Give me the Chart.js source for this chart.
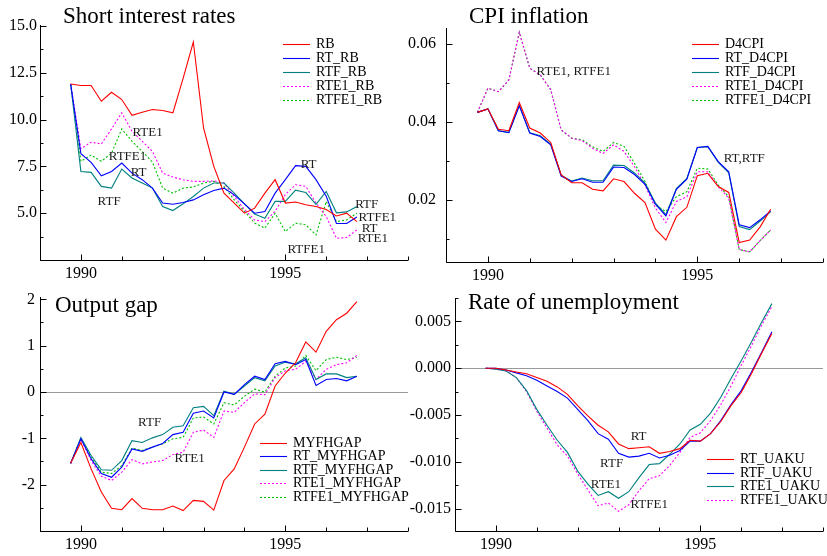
<!DOCTYPE html>
<html>
<head>
<meta charset="utf-8">
<script src="https://cdn.jsdelivr.net/npm/chart.js@4.4.1/dist/chart.umd.min.js"></script>
<style>
  body { margin: 0; background: #fff; }
  #wrap { position: relative; width: 827px; height: 556px; overflow: hidden; background: #fff; }
  canvas { position: absolute; }
</style>
</head>
<body>
<div id="wrap">
  <canvas id="c1" width="414" height="280" style="left:0;top:0"></canvas>
  <canvas id="c2" width="427" height="282" style="left:400px;top:0"></canvas>
  <canvas id="c3" width="414" height="276" style="left:0;top:280px"></canvas>
  <canvas id="c4" width="427" height="276" style="left:400px;top:280px"></canvas>
</div>
<script>
// quarterly dates, 1989Q4 .. 1996Q4
const quarters = [1989.75, 1990, 1990.25, 1990.5, 1990.75, 1991, 1991.25, 1991.5, 1991.75,
  1992, 1992.25, 1992.5, 1992.75, 1993, 1993.25, 1993.5, 1993.75, 1994, 1994.25, 1994.5, 1994.75,
  1995, 1995.25, 1995.5, 1995.75, 1996, 1996.25, 1996.5, 1996.75];
const yearTickLabels = [1990, 1995];

// short interest rates
const rb      = [11.9, 11.82, 11.82, 10.98, 11.46, 11.07, 10.23, 10.39, 10.54, 10.48, 10.36, 12.2, 14.14, 9.55, 7.5, 6.07, 5.54, 5.0, 5.27, 6.07, 6.79, 5.54, 5.6, 5.45, 5.36, 5.2, 4.85, 5.0, 4.55];
const rtRb    = [11.9, 8.18, 7.71, 7.0, 7.23, 7.68, 7.14, 6.79, 6.34, 5.54, 5.48, 5.57, 5.71, 5.98, 6.21, 6.34, 5.98, 5.5, 5.0, 5.09, 6.07, 6.79, 7.54, 7.5, 6.79, 5.9, 4.45, 4.45, 4.8];
const rtfRb   = [11.9, 7.23, 7.18, 6.43, 6.34, 7.36, 6.88, 6.61, 6.34, 5.36, 5.14, 5.5, 5.89, 6.34, 6.61, 6.61, 6.07, 5.5, 4.95, 4.73, 5.63, 5.63, 6.23, 6.1, 5.47, 6.16, 5.02, 5.07, 5.36];
const rte1Rb  = [11.9, 8.45, 8.79, 8.7, 9.5, 10.36, 9.38, 8.84, 8.3, 7.14, 6.93, 6.79, 6.7, 6.7, 6.72, 6.61, 5.89, 5.2, 4.64, 4.55, 5.1, 6.0, 6.52, 6.43, 5.54, 4.82, 3.66, 3.7, 4.11];
const rtfe1Rb = [11.9, 7.77, 8.1, 7.77, 8.2, 9.5, 8.84, 8.3, 7.73, 6.34, 6.07, 6.34, 6.4, 6.61, 6.7, 6.43, 5.71, 5.1, 4.47, 4.2, 5.0, 4.02, 4.47, 4.38, 3.84, 5.63, 4.55, 4.64, 5.0];

// CPI inflation
const d4cpi      = [0.0425, 0.0434, 0.0382, 0.0378, 0.045, 0.0385, 0.0372, 0.0348, 0.0265, 0.0245, 0.0245, 0.0228, 0.0224, 0.0255, 0.0248, 0.0218, 0.0194, 0.0126, 0.0098, 0.0158, 0.0182, 0.0263, 0.0269, 0.0235, 0.022, 0.0092, 0.0098, 0.0132, 0.0177];
const rtD4cpi    = [0.0425, 0.0434, 0.0378, 0.0373, 0.0442, 0.0372, 0.0363, 0.0342, 0.0262, 0.0248, 0.0255, 0.0246, 0.0246, 0.0285, 0.0284, 0.0266, 0.0241, 0.019, 0.016, 0.0228, 0.0254, 0.0335, 0.0338, 0.0299, 0.0273, 0.0137, 0.013, 0.015, 0.0173];
const rtfD4cpi   = [0.0425, 0.0434, 0.0378, 0.0374, 0.0443, 0.0373, 0.0365, 0.0344, 0.0264, 0.0249, 0.0257, 0.025, 0.025, 0.029, 0.0289, 0.027, 0.0244, 0.0193, 0.0163, 0.023, 0.0256, 0.0335, 0.0337, 0.0297, 0.027, 0.0133, 0.0125, 0.0147, 0.0171];
const rte1D4cpi  = [0.0425, 0.0487, 0.0478, 0.0508, 0.063, 0.0538, 0.0521, 0.0483, 0.038, 0.0359, 0.0353, 0.0333, 0.032, 0.0342, 0.0325, 0.0286, 0.0239, 0.018, 0.0143, 0.0197, 0.0209, 0.0273, 0.0273, 0.0235, 0.0205, 0.0074, 0.0068, 0.0097, 0.0124];
const rtfe1D4cpi = [0.0425, 0.0487, 0.0478, 0.0508, 0.063, 0.0538, 0.0521, 0.0483, 0.038, 0.0359, 0.0355, 0.0337, 0.0325, 0.0348, 0.0338, 0.0295, 0.0248, 0.0188, 0.0171, 0.0209, 0.0222, 0.0282, 0.028, 0.0239, 0.0209, 0.0074, 0.0068, 0.0097, 0.0124];

// output gap
const gap      = [-1.54, -1.09, -1.66, -2.16, -2.51, -2.54, -2.3, -2.51, -2.54, -2.54, -2.46, -2.56, -2.34, -2.36, -2.55, -1.91, -1.66, -1.19, -0.69, -0.48, 0.13, 0.41, 0.63, 1.08, 0.86, 1.31, 1.56, 1.7, 1.95];
const rtGap    = [-1.54, -1.01, -1.44, -1.76, -1.84, -1.62, -1.23, -1.28, -1.19, -1.11, -0.92, -0.87, -0.46, -0.41, -0.56, 0.0, -0.05, 0.16, 0.34, 0.27, 0.61, 0.66, 0.59, 0.7, 0.14, 0.27, 0.29, 0.24, 0.34];
const rtfGap   = [-1.54, -0.98, -1.37, -1.68, -1.69, -1.48, -1.05, -1.09, -0.99, -0.92, -0.76, -0.73, -0.34, -0.31, -0.51, 0.02, -0.05, 0.13, 0.31, 0.24, 0.56, 0.64, 0.61, 0.74, 0.27, 0.39, 0.39, 0.31, 0.34];
const rte1Gap  = [-1.54, -1.02, -1.48, -1.82, -1.91, -1.73, -1.46, -1.55, -1.51, -1.48, -1.35, -1.3, -0.87, -0.82, -0.98, -0.41, -0.44, -0.23, -0.04, -0.06, 0.31, 0.46, 0.49, 0.66, 0.27, 0.49, 0.59, 0.63, 0.79];
const rtfe1Gap = [-1.54, -1.0, -1.41, -1.73, -1.76, -1.59, -1.21, -1.26, -1.19, -1.12, -1.01, -0.98, -0.56, -0.54, -0.69, -0.23, -0.28, -0.09, 0.06, 0.0, 0.34, 0.52, 0.56, 0.79, 0.46, 0.7, 0.75, 0.7, 0.75];

// rate of unemployment
const rtUaku    = [0, 0, -0.0002, -0.0004, -0.0006, -0.001, -0.0014, -0.002, -0.0028, -0.004, -0.0051, -0.0061, -0.0068, -0.0081, -0.0086, -0.0085, -0.0084, -0.0091, -0.0089, -0.0086, -0.0077, -0.0078, -0.007, -0.0057, -0.004, -0.0026, -0.0006, 0.0016, 0.0037];
const rtfUaku   = [0, 0, -0.0002, -0.0005, -0.0008, -0.0013, -0.0019, -0.0025, -0.0032, -0.0044, -0.0056, -0.007, -0.0076, -0.0091, -0.0095, -0.0094, -0.0091, -0.0096, -0.0093, -0.0088, -0.0078, -0.0078, -0.007, -0.0056, -0.0039, -0.0024, -0.0004, 0.0017, 0.0039];
const rte1Uaku  = [0, -0.0001, -0.0003, -0.001, -0.0024, -0.0044, -0.0061, -0.0077, -0.009, -0.011, -0.0124, -0.0136, -0.0132, -0.0139, -0.0132, -0.0117, -0.0103, -0.0102, -0.0092, -0.0081, -0.0066, -0.006, -0.0048, -0.0031, -0.0011, 0.0008, 0.0028, 0.0049, 0.0069];
const rtfe1Uaku = [0, -0.0001, -0.0003, -0.001, -0.0025, -0.0046, -0.0064, -0.0082, -0.0094, -0.0113, -0.013, -0.0147, -0.0144, -0.0153, -0.0146, -0.0131, -0.0118, -0.0115, -0.0104, -0.009, -0.0074, -0.0069, -0.0056, -0.0039, -0.0019, 0.0003, 0.0024, 0.0046, 0.0066];

const red = '#ff0000', blue = '#0000ff', teal = '#008080', magenta = '#ff00ff', green = '#00c000';
const serif = '"Liberation Serif", "Times New Roman", serif';

function series(label, values, color, dotted) {
  return {
    label: label,
    data: quarters.map((q, i) => ({ x: q, y: values[i] })),
    borderColor: color,
    borderWidth: 1.1,
    borderDash: dotted ? [2, 2] : [],
    pointRadius: 0,
    tension: 0,
    fill: false
  };
}

function isMult(v, step) {
  return Math.abs(v / step - Math.round(v / step)) < 1e-6;
}

// axes with inward ticks, title, legend and line labels
const decor = {
  id: 'decor',
  beforeDatasetsDraw(chart, args, o) {
    if (!o.zero) return;
    const { ctx, chartArea: a, scales: { y } } = chart;
    const py = Math.round(y.getPixelForValue(0)) + 0.5;
    ctx.save();
    ctx.strokeStyle = '#9a9a9a';
    ctx.lineWidth = 1;
    ctx.beginPath();
    ctx.moveTo(a.left, py);
    ctx.lineTo(a.right, py);
    ctx.stroke();
    ctx.restore();
  },
  afterDraw(chart, args, o) {
    const { ctx, chartArea: a, scales: { x, y } } = chart;
    const L = Math.round(a.left) + 0.5, B = Math.round(a.bottom) + 0.5;
    ctx.save();
    ctx.strokeStyle = '#000';
    ctx.lineWidth = 1;
    ctx.beginPath();
    ctx.moveTo(L, Math.round(a.top));
    ctx.lineTo(L, B);
    ctx.lineTo(Math.round(a.right), B);
    x.ticks.forEach(t => {
      if (!isMult(t.value, 1)) return;
      const px = Math.round(x.getPixelForValue(t.value)) + 0.5;
      ctx.moveTo(px, B);
      ctx.lineTo(px, B - (t.label ? 6 : 4));
    });
    y.ticks.forEach(t => {
      if (!isMult(t.value, o.yStep)) return;
      const py = Math.round(y.getPixelForValue(t.value)) + 0.5;
      ctx.moveTo(L, py);
      ctx.lineTo(L + (t.label ? 6 : 3), py);
    });
    ctx.stroke();

    // title
    ctx.fillStyle = '#000';
    ctx.font = '23px ' + serif;
    ctx.textAlign = 'left';
    ctx.textBaseline = 'alphabetic';
    ctx.fillText(o.title, o.titleX, o.titleY);

    // legend
    ctx.font = '14px ' + serif;
    ctx.textBaseline = 'middle';
    chart.data.datasets.forEach((ds, i) => {
      const ry = Math.round(o.legY + i * o.legGap) + 0.5;
      ctx.strokeStyle = ds.borderColor;
      ctx.lineWidth = 1.1;
      ctx.setLineDash(ds.borderDash);
      ctx.beginPath();
      ctx.moveTo(o.legX, ry);
      ctx.lineTo(o.legX + 27, ry);
      ctx.stroke();
      ctx.setLineDash([]);
      ctx.fillText(ds.label, o.legX + 33, ry);
    });

    // line labels placed in data units
    ctx.font = '13px ' + serif;
    ctx.textAlign = 'center';
    ctx.fillStyle = '#1a1a1a';
    (o.notes || []).forEach(n => {
      ctx.fillText(n.t, x.getPixelForValue(n.x), y.getPixelForValue(n.y));
    });
    ctx.restore();
  }
};

function panel(id, o) {
  return new Chart(document.getElementById(id), {
    type: 'line',
    data: { datasets: o.datasets },
    options: {
      responsive: false,
      animation: false,
      devicePixelRatio: 1,
      layout: { padding: { top: o.padTop, right: o.padRight, bottom: 0, left: 0 } },
      plugins: {
        legend: { display: false },
        tooltip: { enabled: false },
        decor: o.decor
      },
      scales: {
        x: {
          type: 'linear',
          min: 1989,
          max: 1998,
          afterFit: s => { s.height = o.xH; },
          grid: { display: false, drawTicks: false },
          border: { display: false },
          ticks: {
            stepSize: 1,
            autoSkip: false,
            maxRotation: 0,
            padding: 4,
            color: '#000',
            font: { family: serif, size: 16 },
            callback: v => yearTickLabels.includes(v) ? String(v) : ''
          }
        },
        y: {
          min: o.yMin,
          max: o.yMax,
          afterFit: s => { s.width = o.yW; },
          grid: { display: false, drawTicks: false },
          border: { display: false },
          ticks: {
            stepSize: o.decor.yStep,
            includeBounds: false,
            autoSkip: false,
            padding: o.yPad,
            color: '#000',
            font: { family: serif, size: 16 },
            callback: o.yLabel
          }
        }
      }
    },
    plugins: [decor]
  });
}

panel('c1', {
  datasets: [
    series('RB', rb, red),
    series('RT_RB', rtRb, blue),
    series('RTF_RB', rtfRb, teal),
    series('RTE1_RB', rte1Rb, magenta, true),
    series('RTFE1_RB', rtfe1Rb, green, true)
  ],
  yMin: 2.5, yMax: 15.05, yW: 40, yPad: 3, padTop: 25, padRight: 6, xH: 20,
  yLabel: v => (isMult(v, 2.5) && v >= 5) ? v.toFixed(1) : '',
  decor: {
    yStep: 1.25, title: 'Short interest rates', titleX: 63, titleY: 23,
    legX: 283, legY: 43.5, legGap: 14,
    notes: [
      { t: 'RTE1', x: 1991.63, y: 9.29 },
      { t: 'RTFE1', x: 1991.14, y: 8.04 },
      { t: 'RT', x: 1991.41, y: 7.18 },
      { t: 'RTF', x: 1990.69, y: 5.63 },
      { t: 'RT', x: 1995.57, y: 7.59 },
      { t: 'RTF', x: 1996.99, y: 5.45 },
      { t: 'RTFE1', x: 1997.25, y: 4.79 },
      { t: 'RT', x: 1997.06, y: 4.2 },
      { t: 'RTE1', x: 1997.14, y: 3.66 },
      { t: 'RTFE1', x: 1995.51, y: 3.04 }
    ]
  }
});

panel('c2', {
  datasets: [
    series('D4CPI', d4cpi, red),
    series('RT_D4CPI', rtD4cpi, blue),
    series('RTF_D4CPI', rtfD4cpi, teal),
    series('RTE1_D4CPI', rte1D4cpi, magenta, true),
    series('RTFE1_D4CPI', rtfe1D4cpi, green, true)
  ],
  yMin: 0.0042, yMax: 0.0641, yW: 46, yPad: 10, padTop: 28, padRight: 3, xH: 20,
  yLabel: v => (isMult(v, 0.02) && v > 0.01) ? v.toFixed(2) : '',
  decor: {
    yStep: 0.01, title: 'CPI inflation', titleX: 69, titleY: 23,
    legX: 292, legY: 43.5, legGap: 14,
    notes: [
      { t: 'RTE1, RTFE1', x: 1992.05, y: 0.053 },
      { t: 'RT,RTF', x: 1996.12, y: 0.0308 }
    ]
  }
});

panel('c3', {
  datasets: [
    series('MYFHGAP', gap, red),
    series('RT_MYFHGAP', rtGap, blue),
    series('RTF_MYFHGAP', rtfGap, teal),
    series('RTE1_MYFHGAP', rte1Gap, magenta, true),
    series('RTFE1_MYFHGAP', rtfe1Gap, green, true)
  ],
  yMin: -3, yMax: 2.05, yW: 40, yPad: 5, padTop: 17, padRight: 6, xH: 25,
  yLabel: v => (isMult(v, 1) && v > -3) ? String(Math.round(v)) : '',
  decor: {
    zero: true, yStep: 0.5, title: 'Output gap', titleX: 55, titleY: 31.5,
    legX: 260, legY: 162.7, legGap: 13.5,
    notes: [
      { t: 'RTF', x: 1991.68, y: -0.66 },
      { t: 'RTE1', x: 1992.66, y: -1.43 }
    ]
  }
});

panel('c4', {
  datasets: [
    series('RT_UAKU', rtUaku, red),
    series('RTF_UAKU', rtfUaku, blue),
    series('RTE1_UAKU', rte1Uaku, teal),
    series('RTFE1_UAKU', rtfe1Uaku, magenta, true)
  ],
  yMin: -0.0174, yMax: 0.0075, yW: 55, yPad: 4, padTop: 18, padRight: 4, xH: 25,
  yLabel: v => {
    if (Math.abs(v) < 1e-9) v = 0;
    return (isMult(v, 0.005) && v > -0.016) ? v.toFixed(3) : '';
  },
  decor: {
    zero: true, yStep: 0.0025, title: 'Rate of unemployment', titleX: 68, titleY: 29.3,
    legX: 307, legY: 179, legGap: 13.7,
    notes: [
      { t: 'RT', x: 1993.49, y: -0.0073 },
      { t: 'RTF', x: 1992.83, y: -0.0102 },
      { t: 'RTE1', x: 1992.69, y: -0.0124 },
      { t: 'RTFE1', x: 1993.75, y: -0.0146 }
    ]
  }
});
</script>
</body>
</html>
